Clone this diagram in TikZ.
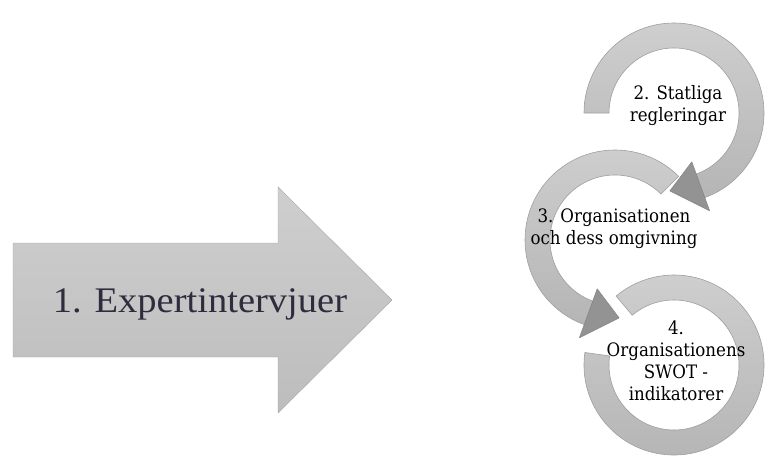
\documentclass[tikz,border=0pt]{standalone}
\usepackage{fontspec}
\setmainfont{Liberation Serif}
\newfontfamily\ringfont{DejaVu Serif Condensed}
\definecolor{inkgray}{RGB}{45,45,62}

\begin{document}
\begin{tikzpicture}[x=1pt,y=1pt,line join=round,
  ring/.style={top color=gray!38,bottom color=gray!58,draw=gray!75,line width=0.6pt},
  head/.style={fill=gray!85,draw=gray!95,line width=0.6pt},
  lbl/.style={font=\ringfont\fontsize{18.5}{22}\selectfont,align=center,text=black}]
\useasboundingbox (0,0) rectangle (768,459);
% big arrow
\draw[top color=gray!38,bottom color=gray!52,draw=gray!70]
  (13,102) -- (13,216) -- (278,216) -- (278,272) -- (392,159) -- (278,46) -- (278,102) -- cycle;
\node[font=\fontsize{36}{40}\selectfont,text=inkgray,xscale=1.07] (expert) at (200,155) {1. Expertintervjuer};
% cycle of arrows
\coordinate (c2) at (674,346);
\coordinate (c3) at (615,219);
\coordinate (c4) at (674,94);
\begin{scope}[shift={(c4)}]
\draw[ring] (172:90) arc[start angle=172,end angle=490,radius=90] -- (490:65) arc[start angle=490,end angle=172,radius=65] -- cycle;
\end{scope}
\begin{scope}[shift={(c3)}]
\draw[ring] (45:90) arc[start angle=45,end angle=251,radius=90] -- (251:65) arc[start angle=251,end angle=45,radius=65] -- cycle;
\draw[head] (250:104) -- (273:78) -- (250:52) -- cycle;
\end{scope}
\begin{scope}[shift={(c2)}]
\draw[ring] (180:90) arc[start angle=180,end angle=-71,radius=90] -- (-71:65) arc[start angle=-71,end angle=180,radius=65] -- cycle;
\draw[head] (-70:104) -- (-93:78) -- (-70:52) -- cycle;
\end{scope}
\node[lbl] (lbl2) at (678,353) {2. Statliga\\regleringar};
\node[lbl] (lbl3) at (614,230) {3. Organisationen\\och dess omgivning};
\node[lbl] (lbl4) at (676,98) {4.\\Organisationens\\SWOT -\\indikatorer};
\end{tikzpicture}
\end{document}
